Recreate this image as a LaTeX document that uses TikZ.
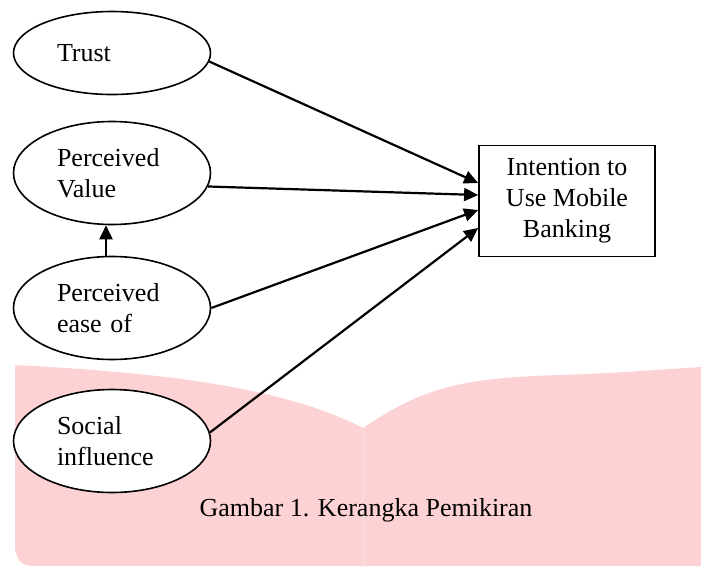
\documentclass[tikz,border=0pt]{standalone}
\usepackage{fontspec}
\setmainfont{Liberation Serif}
\usepackage{xcolor}
\usepackage{tikz}
\usetikzlibrary{shapes.geometric, positioning, arrows.meta}

\definecolor{bookpink}{RGB}{253,210,213}
\definecolor{foldpink}{RGB}{249,218,220}

\begin{document}
\begin{tikzpicture}[
        x=1pt, y=1pt,
        node distance=120pt,
        on grid,
        >={Triangle[length=14pt,width=13pt]},
        % Word-like look: Times widths, thin outlines
        every node/.style={font=\fontsize{26}{31}\selectfont},
        factor/.style={ellipse, draw, line width=1.6pt, fill=white,
            minimum width=197pt, minimum height=103pt,
            text width=110pt, align=left, inner sep=0pt},
        target/.style={rectangle, draw, line width=1.8pt, fill=white,
            minimum width=176pt, minimum height=111pt, align=center},
        link/.style={->, line width=2.2pt}
    ]

    \useasboundingbox (0,0) rectangle (701,-568);

    % --- Background (open book watermark) ---
    \fill[bookpink] (15,-365)
        .. controls (150,-372) and (280,-385) .. (363,-428)
        .. controls (420,-390) and (455,-378) .. (560,-375)
        .. controls (625,-373) and (680,-368) .. (701,-367)
        -- (701,-566) -- (32,-566)
        .. controls (20,-564) .. (15,-550) -- cycle;
    \draw[foldpink, line width=1.5pt] (363,-430) -- (363,-566);

    % --- Factors ---
    \node[factor, minimum height=83pt] (trust) at (112,-53) {Trust};
    \node[factor, below=120pt of trust] (value) {Perceived\\Value};
    \node[factor, below=135pt of value] (ease) {Perceived\\ease of};
    \node[factor, below=133pt of ease] (social) {Social\\influence};

    % --- Dependent variable ---
    \node[target] (intention) at (567,-201) {Intention to\\Use Mobile\\Banking};

    % --- Caption ---
    \node (caption) at (366,-510) {Gambar 1. Kerangka Pemikiran};

    % --- Paths ---
    \path[link]
        (trust.-5) edge ([yshift=18pt]intention.west)
        (value.-8) edge ([yshift=6pt]intention.west)
        (ease.east) edge ([yshift=-9pt]intention.west)
        (social.5) edge ([yshift=-27pt]intention.west)
        ([xshift=-6pt]ease.north) edge ([xshift=-6pt]value.south);

\end{tikzpicture}
\end{document}
